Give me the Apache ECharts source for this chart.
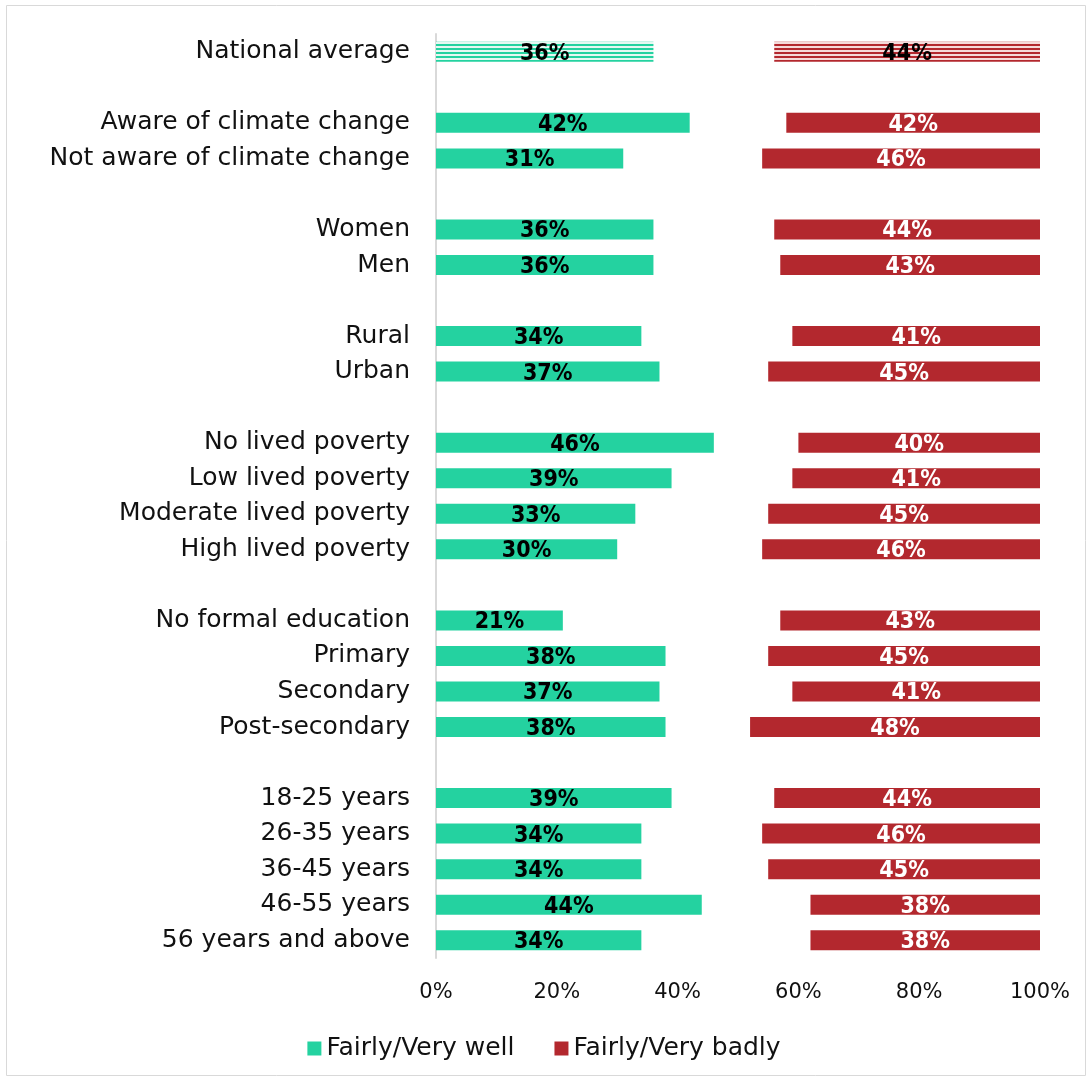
<!DOCTYPE html>
<html><head><meta charset="utf-8">
<script src="https://cdn.jsdelivr.net/npm/echarts@6/dist/echarts.min.js"></script>
<style>html,body{margin:0;padding:0;background:#fff}#c{width:1088px;height:1079px}</style>
</head><body><div id="c"></div>
<script>
const categories = ['National average','','Aware of climate change','Not aware of climate change','','Women','Men','','Rural','Urban','','No lived poverty','Low lived poverty','Moderate lived poverty','High lived poverty','','No formal education','Primary','Secondary','Post-secondary','','18-25 years','26-35 years','36-45 years','46-55 years','56 years and above'];
const wellValues = [36,null,42,31,null,36,36,null,34,37,null,46,39,33,30,null,21,38,37,38,null,39,34,34,44,34];
const badlyValues = [44,null,42,46,null,44,43,null,41,45,null,40,41,45,46,null,43,45,41,48,null,44,46,45,38,38];
const xTicks = [0,20,40,60,80,100];

const GREEN = '#24d2a0', RED = '#b3282e';
const FONT = '"Century Gothic","URW Gothic","DejaVu Sans","Open Sans",sans-serif';
const BOLD = '"Liberation Sans Narrow","DejaVu Sans Condensed","Roboto",sans-serif';

function stripe(col, light){
  const c = document.createElement('canvas'); c.width = 4; c.height = 4;
  const g = c.getContext('2d');
  g.fillStyle = light; g.fillRect(0,0,4,4);
  g.fillStyle = col; g.fillRect(0,0,4,2);
  return {image: c, repeat: 'repeat'};
}

const gapValues = wellValues.map((v,i)=> v==null ? null : 100 - v - badlyValues[i]);

const wellData = wellValues.map((v,i)=> i===0 ? {value:v, itemStyle:{color: stripe(GREEN,'#e6f8f2')}} : v);
const badData = badlyValues.map((v,i)=> i===0 ? {value:v, itemStyle:{color: stripe(RED,'#f5dada')}, label:{color:'#000'}} : v);

const chart = echarts.init(document.getElementById('c'));
chart.setOption({
  animation:false,
  graphic:[{type:'rect', shape:{x:6.5,y:5.5,width:1079,height:1070}, style:{fill:'none', stroke:'#d9d9d9', lineWidth:1}}],
  grid:{left:436, right:48, top:34, bottom:121},
  legend:{bottom:13, left:'center', data:['Fairly/Very well','Fairly/Very badly'], itemWidth:14, itemHeight:14, itemGap:40, icon:'rect',
    textStyle:{fontFamily:FONT, fontSize:25, color:'#111'}},
  xAxis:{type:'value', min:0, max:100, interval:20, splitLine:{show:false}, axisLine:{show:false}, axisTick:{show:false},
    axisLabel:{formatter: v => xTicks.includes(v) ? v+'%' : '', fontFamily:FONT, fontSize:21, color:'#111', margin:24}},
  yAxis:{type:'category', inverse:true, data:categories, axisTick:{show:false},
    axisLine:{show:true, lineStyle:{color:'#d9d9d9', width:2}},
    axisLabel:{fontFamily:FONT, fontSize:25, color:'#111', margin:26, padding:[4,0,0,0]}},
  series:[
    {name:'Fairly/Very well', type:'bar', stack:'s', data:wellData, barWidth:20, itemStyle:{color:GREEN},
      label:{show:true, position:'inside', offset:[0,2], formatter:'{c}%', color:'#000', fontFamily:BOLD, fontWeight:'bold', fontSize:23}},
    {name:'gap', type:'bar', stack:'s', data:gapValues, barWidth:20, itemStyle:{color:'rgba(0,0,0,0)'}, silent:true},
    {name:'Fairly/Very badly', type:'bar', stack:'s', data:badData, barWidth:20, itemStyle:{color:RED},
      label:{show:true, position:'inside', offset:[0,2], formatter:'{c}%', color:'#fff', fontFamily:BOLD, fontWeight:'bold', fontSize:23}}
  ]
});
</script></body></html>
